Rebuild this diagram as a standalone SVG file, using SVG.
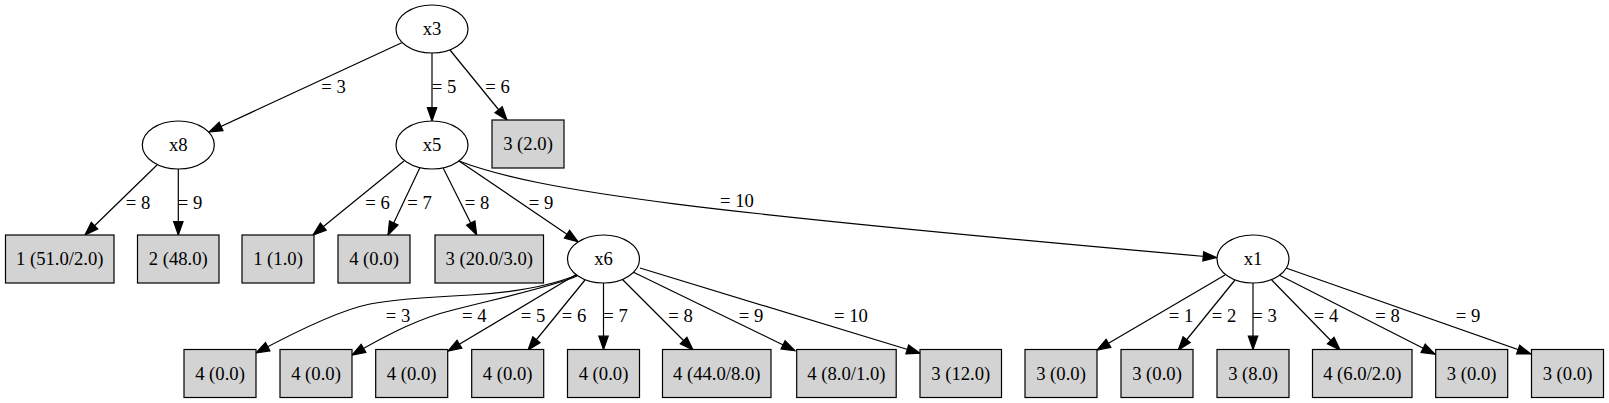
<svg xmlns="http://www.w3.org/2000/svg" width="1609" height="403" viewBox="0 0 1609 403">
<style>
  text { font-family: "Liberation Serif", "Times New Roman", serif; font-size: 18.67px; fill: #000; }
  .n text, .l text { text-anchor: middle; }
  .el { fill: #ffffff; stroke: #000; stroke-width: 1.2; }
  .lf { fill: #d3d3d3; stroke: #000; stroke-width: 1.2; }
  .e path { fill: none; stroke: #000; stroke-width: 1.2; marker-end: url(#arr); }
  .e text { text-anchor: middle; }
</style>
<defs>
  <marker id="arr" markerUnits="userSpaceOnUse" markerWidth="16" markerHeight="12" viewBox="-1 -1 16 12" refX="13.3" refY="4.67" orient="auto" overflow="visible">
    <path d="M0,0 L13.3,4.67 L0,9.33 Z" fill="#000" stroke="#000" stroke-width="1.2"/>
  </marker>
</defs>
<rect x="0" y="0" width="1609" height="403" fill="#ffffff"/>

<g id="edges" class="e">
  <g id="e_x3_x8"><path d="M401.7,42.7 L209,132"/><text x="333.6" y="93">= 3</text></g>
  <g id="e_x3_x5"><path d="M432,53 L432,121"/><text x="444" y="93">= 5</text></g>
  <g id="e_x3_l1"><path d="M450,50 L507,120"/><text x="497.5" y="93">= 6</text></g>
  <g id="e_x8_b1"><path d="M157,165 L85,235"/><text x="138" y="208.5">= 8</text></g>
  <g id="e_x8_b2"><path d="M178.3,169 L178.3,235"/><text x="190" y="208.5">= 9</text></g>
  <g id="e_x5_b3"><path d="M404,161 L313,235"/><text x="377.5" y="208.5">= 6</text></g>
  <g id="e_x5_b4"><path d="M420,167.6 L388,235"/><text x="419.5" y="208.5">= 7</text></g>
  <g id="e_x5_b5"><path d="M443.3,168.3 L476.7,235"/><text x="477" y="208.5">= 8</text></g>
  <g id="e_x5_x6"><path d="M459,161 L578,241.7"/><text x="541" y="208.5">= 9</text></g>
  <g id="e_x5_x1"><path d="M459,161 C540,192 700,212 1216.5,257.5"/><text x="737" y="207">= 10</text></g>
  <g id="e_x6_c1"><path d="M577,275 C545,288 505,293 470,295 C430,297 395,299 370,304 C340,310 295,332 256,353"/><text x="398" y="321.8">= 3</text></g>
  <g id="e_x6_c2"><path d="M577,276 C555,286 500,298 453,310 C420,318 390,333 352,355"/><text x="474.3" y="321.8">= 4</text></g>
  <g id="e_x6_c3"><path d="M577,274 L448,351"/><text x="533" y="321.8">= 5</text></g>
  <g id="e_x6_c4"><path d="M585,280 L528,350"/><text x="574" y="321.8">= 6</text></g>
  <g id="e_x6_c5"><path d="M603.5,283 L603.5,349.5"/><text x="615.5" y="321.8">= 7</text></g>
  <g id="e_x6_c6"><path d="M622,279 L693,350"/><text x="680.5" y="321.8">= 8</text></g>
  <g id="e_x6_c7"><path d="M633,272 L795,350.7"/><text x="751" y="321.8">= 9</text></g>
  <g id="e_x6_c8"><path d="M640,268 L920,353.3"/><text x="851" y="321.8">= 10</text></g>
  <g id="e_x1_c9"><path d="M1225,275 L1097,350"/><text x="1181" y="321.8">= 1</text></g>
  <g id="e_x1_c10"><path d="M1235,280 L1178.3,350"/><text x="1224" y="321.8">= 2</text></g>
  <g id="e_x1_c11"><path d="M1253,283 L1253,349.5"/><text x="1264.5" y="321.8">= 3</text></g>
  <g id="e_x1_c12"><path d="M1271.7,280 L1340,350"/><text x="1326" y="321.8">= 4</text></g>
  <g id="e_x1_c13"><path d="M1280,275.5 L1435,354.3"/><text x="1387.5" y="321.8">= 8</text></g>
  <g id="e_x1_c14"><path d="M1286.7,268.3 L1530.7,354"/><text x="1468" y="321.8">= 9</text></g>
</g>

<g id="nodes">
  <g id="n_x3" class="n"><ellipse class="el" cx="432" cy="29" rx="36" ry="24"/><text x="432" y="35.3">x3</text></g>
  <g id="n_x8" class="n"><ellipse class="el" cx="178.3" cy="145" rx="36" ry="24"/><text x="178.3" y="151.3">x8</text></g>
  <g id="n_x5" class="n"><ellipse class="el" cx="432" cy="145" rx="36" ry="24"/><text x="432" y="151.3">x5</text></g>
  <g id="n_x6" class="n"><ellipse class="el" cx="603.5" cy="259" rx="36" ry="24"/><text x="603.5" y="265.3">x6</text></g>
  <g id="n_x1" class="n"><ellipse class="el" cx="1253" cy="259" rx="36" ry="24"/><text x="1253" y="265.3">x1</text></g>

  <g id="l_x3_6" class="l"><rect class="lf" x="492" y="120" width="72" height="48"/><text x="528" y="150.3">3 (2.0)</text></g>

  <g id="l_x8_8" class="l"><rect class="lf" x="5.5" y="235" width="108.5" height="48"/><text x="59.75" y="265.3">1 (51.0/2.0)</text></g>
  <g id="l_x8_9" class="l"><rect class="lf" x="137.5" y="235" width="81.5" height="48"/><text x="178.25" y="265.3">2 (48.0)</text></g>
  <g id="l_x5_6" class="l"><rect class="lf" x="242" y="235" width="72" height="48"/><text x="278" y="265.3">1 (1.0)</text></g>
  <g id="l_x5_7" class="l"><rect class="lf" x="338" y="235" width="72" height="48"/><text x="374" y="265.3">4 (0.0)</text></g>
  <g id="l_x5_8" class="l"><rect class="lf" x="435" y="235" width="108.5" height="48"/><text x="489.25" y="265.3">3 (20.0/3.0)</text></g>

  <g id="l_x6_3" class="l"><rect class="lf" x="184" y="349.5" width="72" height="48"/><text x="220" y="379.8">4 (0.0)</text></g>
  <g id="l_x6_4" class="l"><rect class="lf" x="280" y="349.5" width="72" height="48"/><text x="316" y="379.8">4 (0.0)</text></g>
  <g id="l_x6_5" class="l"><rect class="lf" x="375.7" y="349.5" width="72" height="48"/><text x="411.7" y="379.8">4 (0.0)</text></g>
  <g id="l_x6_6" class="l"><rect class="lf" x="471.7" y="349.5" width="72" height="48"/><text x="507.7" y="379.8">4 (0.0)</text></g>
  <g id="l_x6_7" class="l"><rect class="lf" x="567.5" y="349.5" width="72" height="48"/><text x="603.5" y="379.8">4 (0.0)</text></g>
  <g id="l_x6_8" class="l"><rect class="lf" x="662.5" y="349.5" width="108.5" height="48"/><text x="716.75" y="379.8">4 (44.0/8.0)</text></g>
  <g id="l_x6_9" class="l"><rect class="lf" x="796.7" y="349.5" width="99.5" height="48"/><text x="846.45" y="379.8">4 (8.0/1.0)</text></g>
  <g id="l_x6_10" class="l"><rect class="lf" x="920" y="349.5" width="81.5" height="48"/><text x="960.75" y="379.8">3 (12.0)</text></g>

  <g id="l_x1_1" class="l"><rect class="lf" x="1025" y="349.5" width="72" height="48"/><text x="1061" y="379.8">3 (0.0)</text></g>
  <g id="l_x1_2" class="l"><rect class="lf" x="1121" y="349.5" width="72" height="48"/><text x="1157" y="379.8">3 (0.0)</text></g>
  <g id="l_x1_3" class="l"><rect class="lf" x="1217" y="349.5" width="72" height="48"/><text x="1253" y="379.8">3 (8.0)</text></g>
  <g id="l_x1_4" class="l"><rect class="lf" x="1312.5" y="349.5" width="99.5" height="48"/><text x="1362.25" y="379.8">4 (6.0/2.0)</text></g>
  <g id="l_x1_8" class="l"><rect class="lf" x="1435.7" y="349.5" width="72" height="48"/><text x="1471.7" y="379.8">3 (0.0)</text></g>
  <g id="l_x1_9" class="l"><rect class="lf" x="1531.5" y="349.5" width="72" height="48"/><text x="1567.5" y="379.8">3 (0.0)</text></g>
</g>
</svg>
